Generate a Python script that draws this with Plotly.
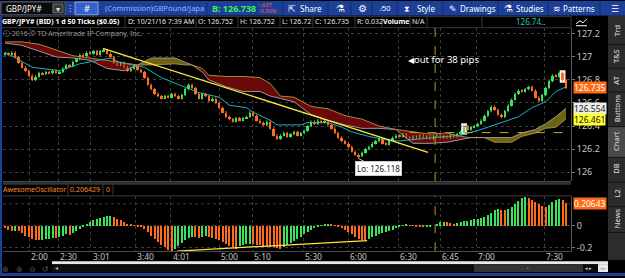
import plotly.graph_objects as go

W, H = 625, 278
FONT = "Noto Sans"


def PX(x):
    return x / W


def PY(y):
    return 1 - y / H


# ------------------------------------------------------------------ data
bars = list(range(166))
opens = [
    127.02, 127.03, 127.02, 127.04, 127.00, 126.95, 126.91, 126.88, 126.84, 126.80,
    126.83, 126.86, 126.85, 126.87, 126.86, 126.88, 126.86, 126.87, 126.90, 126.93,
    126.92, 126.96, 126.98, 127.02, 127.01, 127.04, 127.03, 127.05, 127.02, 127.05,
    127.06, 127.03, 127.00, 126.95, 126.93, 126.95, 126.91, 126.88, 126.90, 126.92,
    126.89, 126.87, 126.82, 126.76, 126.72, 126.68, 126.66, 126.64, 126.66, 126.65,
    126.68, 126.66, 126.64, 126.67, 126.72, 126.76, 126.73, 126.68, 126.64, 126.68,
    126.66, 126.62, 126.64, 126.60, 126.56, 126.52, 126.48, 126.46, 126.44, 126.47,
    126.45, 126.47, 126.48, 126.52, 126.49, 126.45, 126.43, 126.41, 126.44, 126.38,
    126.32, 126.29, 126.32, 126.34, 126.31, 126.33, 126.35, 126.32, 126.34, 126.36,
    126.40, 126.44, 126.42, 126.45, 126.43, 126.44, 126.41, 126.38, 126.34, 126.30,
    126.27, 126.25, 126.22, 126.18, 126.15, 126.14, 126.17, 126.20, 126.22, 126.25,
    126.27, 126.29, 126.25, 126.24, 126.28, 126.30, 126.32, 126.31, 126.33, 126.30,
    126.29, 126.31, 126.30, 126.32, 126.30, 126.31, 126.29, 126.31, 126.32, 126.30,
    126.31, 126.30, 126.32, 126.31, 126.33, 126.35, 126.40, 126.37, 126.39, 126.40,
    126.42, 126.45, 126.49, 126.53, 126.57, 126.54, 126.50, 126.48, 126.53, 126.58,
    126.63, 126.68, 126.71, 126.70, 126.72, 126.74, 126.71, 126.65, 126.62, 126.67,
    126.73, 126.79, 126.84, 126.83, 126.86, 126.80,
]
closes = [
    127.03, 127.02, 127.04, 127.00, 126.95, 126.91, 126.88, 126.84, 126.80, 126.83,
    126.86, 126.85, 126.87, 126.86, 126.88, 126.86, 126.87, 126.90, 126.93, 126.92,
    126.96, 126.98, 127.02, 127.01, 127.04, 127.03, 127.05, 127.02, 127.05, 127.06,
    127.03, 127.00, 126.95, 126.93, 126.95, 126.91, 126.88, 126.90, 126.92, 126.89,
    126.87, 126.82, 126.76, 126.72, 126.68, 126.66, 126.64, 126.66, 126.65, 126.68,
    126.66, 126.64, 126.67, 126.72, 126.76, 126.73, 126.68, 126.64, 126.68, 126.66,
    126.62, 126.64, 126.60, 126.56, 126.52, 126.48, 126.46, 126.44, 126.47, 126.45,
    126.47, 126.48, 126.52, 126.49, 126.45, 126.43, 126.41, 126.44, 126.38, 126.32,
    126.29, 126.32, 126.34, 126.31, 126.33, 126.35, 126.32, 126.34, 126.36, 126.40,
    126.44, 126.42, 126.45, 126.43, 126.44, 126.41, 126.38, 126.34, 126.30, 126.27,
    126.25, 126.22, 126.18, 126.15, 126.14, 126.17, 126.20, 126.22, 126.25, 126.27,
    126.29, 126.25, 126.24, 126.28, 126.30, 126.32, 126.31, 126.33, 126.30, 126.29,
    126.31, 126.30, 126.32, 126.30, 126.31, 126.29, 126.31, 126.32, 126.30, 126.31,
    126.30, 126.32, 126.31, 126.33, 126.35, 126.40, 126.37, 126.39, 126.40, 126.42,
    126.45, 126.49, 126.53, 126.57, 126.54, 126.50, 126.48, 126.53, 126.58, 126.63,
    126.68, 126.71, 126.70, 126.72, 126.74, 126.71, 126.65, 126.62, 126.67, 126.73,
    126.79, 126.84, 126.83, 126.86, 126.80, 126.735,
]
highs = [
    127.04, 127.04, 127.05, 127.05, 127.01, 126.96, 126.92, 126.89, 126.85, 126.84,
    126.87, 126.87, 126.88, 126.88, 126.89, 126.89, 126.88, 126.91, 126.94, 126.94,
    126.97, 126.99, 127.03, 127.03, 127.05, 127.05, 127.06, 127.06, 127.06, 127.07,
    127.07, 127.04, 127.01, 126.96, 126.96, 126.96, 126.92, 126.91, 126.93, 126.93,
    126.90, 126.88, 126.83, 126.77, 126.73, 126.69, 126.67, 126.67, 126.67, 126.69,
    126.69, 126.67, 126.68, 126.73, 126.77, 126.77, 126.74, 126.69, 126.69, 126.69,
    126.67, 126.65, 126.65, 126.61, 126.57, 126.53, 126.49, 126.47, 126.48, 126.48,
    126.48, 126.49, 126.53, 126.53, 126.50, 126.46, 126.44, 126.45, 126.45, 126.39,
    126.33, 126.33, 126.35, 126.35, 126.34, 126.36, 126.36, 126.35, 126.37, 126.41,
    126.45, 126.45, 126.46, 126.46, 126.45, 126.45, 126.42, 126.39, 126.35, 126.31,
    126.28, 126.26, 126.23, 126.19, 126.16, 126.18, 126.21, 126.23, 126.26, 126.28,
    126.30, 126.30, 126.26, 126.29, 126.31, 126.33, 126.33, 126.34, 126.34, 126.31,
    126.32, 126.32, 126.33, 126.33, 126.32, 126.32, 126.32, 126.33, 126.33, 126.32,
    126.32, 126.33, 126.33, 126.34, 126.36, 126.41, 126.41, 126.40, 126.41, 126.43,
    126.46, 126.50, 126.54, 126.58, 126.58, 126.55, 126.51, 126.54, 126.59, 126.64,
    126.69, 126.72, 126.72, 126.73, 126.75, 126.75, 126.72, 126.66, 126.68, 126.74,
    126.80, 126.85, 126.85, 126.87, 126.87, 126.81,
]
lows = [
    127.01, 127.01, 127.01, 126.99, 126.94, 126.90, 126.87, 126.83, 126.79, 126.79,
    126.82, 126.84, 126.84, 126.85, 126.85, 126.85, 126.85, 126.86, 126.89, 126.91,
    126.91, 126.95, 126.97, 127.00, 127.00, 127.02, 127.02, 127.01, 127.01, 127.04,
    127.02, 126.99, 126.94, 126.92, 126.92, 126.90, 126.87, 126.87, 126.89, 126.88,
    126.86, 126.81, 126.75, 126.71, 126.67, 126.65, 126.63, 126.63, 126.64, 126.64,
    126.65, 126.63, 126.63, 126.66, 126.71, 126.72, 126.67, 126.63, 126.63, 126.65,
    126.61, 126.61, 126.59, 126.55, 126.51, 126.47, 126.45, 126.43, 126.43, 126.44,
    126.44, 126.46, 126.47, 126.48, 126.44, 126.42, 126.40, 126.40, 126.37, 126.31,
    126.28, 126.28, 126.31, 126.30, 126.30, 126.32, 126.31, 126.31, 126.33, 126.35,
    126.39, 126.41, 126.41, 126.42, 126.42, 126.40, 126.37, 126.33, 126.29, 126.26,
    126.24, 126.21, 126.17, 126.14, 126.118, 126.13, 126.16, 126.19, 126.21, 126.24,
    126.26, 126.24, 126.23, 126.23, 126.27, 126.29, 126.30, 126.30, 126.29, 126.28,
    126.28, 126.29, 126.29, 126.29, 126.29, 126.28, 126.28, 126.30, 126.29, 126.29,
    126.29, 126.29, 126.30, 126.30, 126.32, 126.34, 126.36, 126.36, 126.38, 126.39,
    126.41, 126.44, 126.48, 126.52, 126.53, 126.49, 126.47, 126.47, 126.52, 126.57,
    126.62, 126.67, 126.69, 126.69, 126.71, 126.70, 126.64, 126.61, 126.61, 126.66,
    126.72, 126.78, 126.82, 126.82, 126.79, 126.72,
]
ao_values = [
    -0.02, -0.04, -0.05, -0.045, -0.05, -0.07, -0.09, -0.10, -0.12, -0.13,
    -0.135, -0.13, -0.125, -0.12, -0.11, -0.112, -0.10, -0.09, -0.08, -0.085,
    -0.07, -0.05, -0.03, -0.01, 0.01, 0.03, 0.05, 0.06, 0.07, 0.08,
    0.085, 0.09, 0.08, 0.065, 0.05, 0.035, 0.02, 0.01, 0.005, -0.005,
    -0.01, -0.03, -0.06, -0.09, -0.12, -0.15, -0.18, -0.20, -0.22, -0.23,
    -0.21, -0.19, -0.16, -0.13, -0.11, -0.10, -0.105, -0.11, -0.10, -0.09,
    -0.10, -0.11, -0.12, -0.13, -0.15, -0.17, -0.19, -0.20, -0.21, -0.19,
    -0.18, -0.17, -0.165, -0.17, -0.175, -0.18, -0.185, -0.19, -0.195, -0.20,
    -0.205, -0.21, -0.20, -0.18, -0.16, -0.14, -0.12, -0.10, -0.08, -0.06,
    -0.04, -0.02, -0.01, 0.005, 0.015, 0.02, 0.015, 0.005, -0.005, -0.02,
    -0.04, -0.06, -0.08, -0.10, -0.12, -0.13, -0.135, -0.12, -0.10, -0.09,
    -0.08, -0.07, -0.06, -0.05, -0.04, -0.02, -0.005, 0.005, 0.01, 0.005,
    0.003, -0.005, -0.01, -0.015, -0.01, -0.005, 0.0, 0.02, 0.03, 0.035,
    0.03, 0.025, 0.02, 0.025, 0.03, 0.04, 0.045, 0.05, 0.06, 0.065,
    0.07, 0.08, 0.10, 0.12, 0.14, 0.15, 0.148, 0.146, 0.15, 0.17,
    0.20, 0.23, 0.255, 0.26, 0.255, 0.24, 0.22, 0.20, 0.18, 0.17,
    0.19, 0.22, 0.24, 0.25, 0.235, 0.206429,
]
kijun_x = [0, 8, 16, 22, 31, 34, 41, 46, 51, 57, 63, 66, 71, 73, 78, 80, 87, 89, 95,
           99, 102, 107, 112, 116, 126, 134, 140, 146, 151, 155, 159, 162, 165]
kijun_y = [127.04, 126.91, 126.88, 126.94, 126.99, 126.95, 126.91, 126.82, 126.76,
           126.69, 126.65, 126.58, 126.56, 126.52, 126.45, 126.41, 126.41, 126.43,
           126.43, 126.39, 126.35, 126.31, 126.28, 126.27, 126.30, 126.32, 126.37,
           126.43, 126.48, 126.56, 126.61, 126.70, 126.74]
cloud_x = [0, 5, 10, 15, 20, 25, 30, 35, 39, 43, 50, 53, 55, 58, 60, 65, 70, 75, 78, 81,
           85, 90, 95, 100, 105, 110, 115, 120, 125, 130, 134, 137, 141, 144, 149, 152,
           156, 159, 162, 165]
span_b = [127.13, 127.13, 127.11, 127.06, 127.01, 126.99, 126.97, 126.95, 126.93, 126.93,
          126.94, 126.93, 126.93, 126.90, 126.84, 126.83, 126.83, 126.82, 126.77, 126.66,
          126.65, 126.57, 126.55, 126.49, 126.46, 126.40, 126.37, 126.35, 126.33, 126.34,
          126.31, 126.30, 126.30, 126.26, 126.26, 126.31, 126.34, 126.38, 126.39, 126.461]
span_a = [127.12, 127.10, 127.05, 127.00, 126.99, 126.97, 126.90, 126.88, 126.93, 126.99,
          126.99, 126.95, 126.93, 126.87, 126.80, 126.74, 126.70, 126.70, 126.66, 126.64,
          126.61, 126.50, 126.45, 126.41, 126.38, 126.38, 126.37, 126.25, 126.25, 126.26,
          126.28, 126.30, 126.30, 126.30, 126.30, 126.34, 126.37, 126.42, 126.48, 126.554]
time_tick_pos = [7.06, 15.59, 25.29, 38.24, 48.82, 62.94, 72.65, 87.65, 100.88,
                 115.59, 127.94, 138.53, 158.53]
time_tick_labels = ["2:00", "2:30", "3:01", "3:40", "4:01", "5:00", "5:10", "5:30",
                    "6:00", "6:30", "6:45", "7:00", "7:30"]
price_ticks = [126.0, 126.2, 126.4, 126.6, 126.8, 127.0, 127.2]
price_tick_labels = ["126", "126.2", "126.4", "126.6", "126.8", "127", "127.2"]
ao_grid = [-0.2, 0.0, 0.2]
ao_ticks = [-0.2, 0.0]
ao_tick_labels = ["-0.2", "0"]
trend_x = [28.8, 124.4]
trend_y = [127.073, 126.172]
ao_trend_x = [50.6, 106.5]
ao_trend_y = [-0.234, -0.138]
marker_bar = 126.5
level_price = 126.343
level_x = [119, 166.4]
highlight_bars = [135, 164]
low_bar = 104
low_price = 126.118
last_close = 126.735
ao_last = 0.206429

X_RANGE = [-0.59, 166.47]
P_RANGE = [125.923, 127.253]
A_RANGE = [-0.236, 0.273]

GREEN = "#3ae25e"
ORANGE = "#ff6d1c"
GRID = "#3c3c3c"
TICKC = "#c4c4c4"

fig = go.Figure()

# ---------------------------------------------------------- Ichimoku cloud
red_x, red_y, ol_x, ol_y = [], [], [], []
for k in range(len(cloud_x) - 1):
    x0, x1 = cloud_x[k], cloud_x[k + 1]
    a0, a1 = span_a[k], span_a[k + 1]
    b0, b1 = span_b[k], span_b[k + 1]
    d0, d1 = b0 - a0, b1 - a1
    if d0 * d1 < 0:
        t = d0 / (d0 - d1)
        xc = x0 + t * (x1 - x0)
        yc = a0 + t * (a1 - a0)
        segs = [(x0, xc, a0, yc, b0, yc, d0), (xc, x1, yc, a1, yc, b1, d1)]
    else:
        segs = [(x0, x1, a0, a1, b0, b1, d0 if d0 != 0 else d1)]
    for xa, xb, aa, ab, ba, bb, d in segs:
        xs = [xa, xb, xb, xa, xa, None]
        ys = [ba, bb, ab, aa, ba, None]
        if d >= 0:
            red_x += xs
            red_y += ys
        else:
            ol_x += xs
            ol_y += ys

fig.add_trace(go.Scatter(x=red_x, y=red_y, fill="toself", fillcolor="#6a0909",
                         mode="lines", line=dict(width=0, color="rgba(0,0,0,0)"),
                         hoverinfo="skip", xaxis="x", yaxis="y"))
fig.add_trace(go.Scatter(x=ol_x, y=ol_y, fill="toself", fillcolor="#6b6410",
                         mode="lines", line=dict(width=0, color="rgba(0,0,0,0)"),
                         hoverinfo="skip", xaxis="x", yaxis="y"))
fig.add_trace(go.Scatter(x=cloud_x, y=span_b, mode="lines",
                         line=dict(color="#a8893a", width=1), xaxis="x", yaxis="y"))
fig.add_trace(go.Scatter(x=cloud_x, y=span_a, mode="lines",
                         line=dict(color="#a09494", width=1), xaxis="x", yaxis="y"))
fig.add_trace(go.Scatter(x=kijun_x, y=kijun_y, mode="lines",
                         line=dict(color="#19b4c6", width=1), xaxis="x", yaxis="y"))

# ---------------------------------------------------------------- candles
up = dict(x=[], base=[], h=[], wx=[], wy=[])
dn = dict(x=[], base=[], h=[], wx=[], wy=[])
for i, o, hi, lo, c in zip(bars, opens, highs, lows, closes):
    d = up if c >= o else dn
    d["x"].append(i)
    d["base"].append(min(o, c))
    d["h"].append(max(abs(c - o), 0.005))
    d["wx"] += [i, i, None]
    d["wy"] += [lo, hi, None]

shapes = []
for b in highlight_bars:
    shapes.append(dict(type="rect", xref="x", yref="y", x0=b - 0.85, x1=b + 0.85,
                       y0=lows[b] - 0.015, y1=highs[b] + 0.015,
                       fillcolor="#f2f2f2", line=dict(width=0), layer="below"))

for d, col in ((up, GREEN), (dn, ORANGE)):
    fig.add_trace(go.Scatter(x=d["wx"], y=d["wy"], mode="lines",
                             line=dict(color=col, width=1), xaxis="x", yaxis="y"))
    fig.add_trace(go.Bar(x=d["x"], y=d["h"], base=d["base"], width=0.66,
                         marker=dict(color=col, line=dict(width=0)),
                         xaxis="x", yaxis="y"))

# trend lines
fig.add_trace(go.Scatter(x=trend_x, y=trend_y, mode="lines",
                         line=dict(color="#ffe63a", width=1.3), xaxis="x", yaxis="y"))
fig.add_trace(go.Scatter(x=level_x, y=[level_price, level_price], mode="lines",
                         line=dict(color="#c9a227", width=1, dash="dash"),
                         xaxis="x", yaxis="y"))

# ------------------------------------------------------------ oscillator
ao_colors = []
for i, v in enumerate(ao_values):
    prev = ao_values[i - 1] if i > 0 else v + 1
    ao_colors.append(GREEN if v >= prev else ORANGE)
fig.add_trace(go.Bar(x=bars, y=ao_values, width=0.6,
                     marker=dict(color=ao_colors, line=dict(width=0)),
                     xaxis="x2", yaxis="y2"))
fig.add_trace(go.Scatter(x=ao_trend_x, y=ao_trend_y, mode="lines",
                         line=dict(color="#ffe63a", width=1.3), xaxis="x2", yaxis="y2"))

# vertical dashed marker in both panes
for xr, yr in (("x", "y domain"), ("x2", "y2 domain")):
    shapes.append(dict(type="line", xref=xr, yref=yr, x0=marker_bar, x1=marker_bar,
                       y0=0, y1=1, line=dict(color="#b8952c", width=1, dash="dash")))
# 0.2 grid line of the oscillator (its label is covered by the value box)
shapes.append(dict(type="line", xref="x2 domain", yref="y2", x0=0, x1=1,
                   y0=ao_grid[2], y1=ao_grid[2],
                   line=dict(color=GRID, width=1, dash="dot"), layer="below"))


# ------------------------------------------------------------ chrome helpers
def rect(x0, y0, x1, y1, fill, line=None, lw=1, layer="above"):
    shapes.append(dict(type="rect", xref="paper", yref="paper",
                       x0=PX(x0), x1=PX(x1), y0=PY(y1), y1=PY(y0),
                       fillcolor=fill, layer=layer,
                       line=dict(width=lw if line else 0, color=line or "rgba(0,0,0,0)")))


def hline(x0, x1, y, color, w=1):
    shapes.append(dict(type="line", xref="paper", yref="paper", x0=PX(x0), x1=PX(x1),
                       y0=PY(y), y1=PY(y), line=dict(color=color, width=w)))


def vline(x, y0, y1, color, w=1):
    shapes.append(dict(type="line", xref="paper", yref="paper", x0=PX(x), x1=PX(x),
                       y0=PY(y0), y1=PY(y1), line=dict(color=color, width=w)))


annotations = []


def label(x, y, text, size=9, color="#ffffff", xanchor="left", angle=0,
          bg=None, border=None, pad=0, family=FONT):
    annotations.append(dict(x=PX(x), y=PY(y), xref="paper", yref="paper", text=text,
                            showarrow=False, xanchor=xanchor, yanchor="middle",
                            textangle=angle, font=dict(size=size, color=color, family=family),
                            bgcolor=bg, bordercolor=border, borderwidth=1 if border else 0,
                            borderpad=pad))


# toolbar
rect(0, 0, 625, 15, "#1c3f98")
rect(1, 1, 65, 14, "#0c0c0c", "#5a5a5a")
label(6, 7.5, "GBP/JPY#", 8)
rect(53, 3, 63, 12, "#3a3a3a", "#777777")
label(58, 7.5, "▾", 8, "#dddddd", "center")
label(70, 7.5, "⁝", 9, "#cfd8ff", "center")
rect(75, 1, 98, 14, "#3562c9", "#8aa4e8")
label(86.5, 7.5, "#", 9, "#ffffff", "center")
label(105, 7.5, "(Commission)GBPound/Japa", 7.5, "#9db6ff")
for sx in (207, 256, 283, 328, 351, 372, 397, 443, 498, 548, 600):
    vline(sx, 1, 14, "#0e2a70")
label(212, 7.5, "<b>B: 126.738</b>", 9, "#3ff05c")
label(259, 4.5, "-.637", 5.5, "#ff5a4a")
label(259, 10.5, "-0.50%", 5.5, "#ff5a4a")
label(288, 7.5, "⇱", 9, "#ffffff")
label(300, 7.5, "Share", 8)
label(340, 7.5, "⚗", 10, "#ffffff", "center")
label(362, 7.5, "⚙", 10, "#ffffff", "center")
label(385, 7.5, "⁄50", 7.5, "#ffffff", "center")
label(404, 7.5, "⧗", 8, "#ffffff")
label(417, 7.5, "Style", 8)
label(449, 7.5, "✎", 9, "#ffffff")
label(460, 7.5, "Drawings", 8)
label(504, 7.5, "⚗", 10, "#ffffff")
label(516, 7.5, "Studies", 8)
label(553, 7.5, "≋", 9, "#ffffff")
label(563, 7.5, "Patterns", 8)
label(615, 7.5, "☰", 9, "#ffffff", "center")

# info row
rect(0, 15, 608, 27, "#000000")
hline(0, 571, 15.5, "#3a3a3a")
hline(0, 571, 27, "#3a3a3a")
for sx in (125, 196, 238, 280, 313, 355, 382, 410, 427, 482, 571):
    vline(sx, 15, 27, "#3a3a3a")
label(2, 21, "<b>GBP/JPY# (BID) 1 d 50 Ticks ($0.05)</b>", 7)
label(128, 21, "D: 10/21/16 7:39 AM", 7, "#e6e6e6")
label(198, 21, "O: 126.752", 7, "#e6e6e6")
label(240, 21, "H: 126.752", 7, "#e6e6e6")
label(282, 21, "L: 126.72", 7, "#e6e6e6")
label(315, 21, "C: 126.735", 7, "#e6e6e6")
label(357, 21, "R: 0.032", 7, "#e6e6e6")
label(383, 21, "<b>Volume</b>", 7)
label(412, 21, "N/A", 7, "#e6e6e6")
label(516, 21, "126.74", 8, "#26c2b4")
label(541, 21, "..", 8, "#cccccc")
shapes.append(dict(type="path", xref="paper", yref="paper",
                   path=f"M {PX(576)},{PY(25)} L {PX(587)},{PY(25)} M {PX(576)},{PY(23)} "
                        f"L {PX(580)},{PY(20)} L {PX(583)},{PY(22)} L {PX(587)},{PY(18)}",
                   line=dict(color="#ffffff", width=1)))

# copyright
label(3, 33, "ⓘ 2016 © TD Ameritrade IP Company, Inc.", 7, "#9a9a9a")

# left blue border, panel separators
rect(0, 15, 2, 278, "#1c3f98")
rect(3, 182, 571, 185, "#262626")
hline(3, 571, 182.5, "#4a4a4a")
hline(3, 571, 185, "#4a4a4a")
hline(3, 571, 197, "#3a3a3a")
for sx in (68, 103, 113):
    vline(sx, 185, 197, "#3a3a3a")
label(3, 191, "AwesomeOscillator", 7, "#ff8a2e")
label(70, 191, "0.206429", 7, "#ff8a2e")
label(106, 191, "0", 7, "#ff8a2e")

# side tabs
rect(608, 15, 625, 262, "#2c2c2c")
rect(608, 127, 625, 158, "#4a4a4a")
for sy in (44, 68, 92, 127, 158, 183, 208, 234):
    hline(608, 625, sy, "#151515")
for ty, tt in ((30, "Trd"), (56, "T&S"), (80, "AT"), (109, "Buttons"), (142, "Chart"),
               (170, "DB"), (195, "L2"), (220, "News")):
    label(616.5, ty, tt, 7.5, "#e0e0e0", "center", angle=-90)

# bottom bar
rect(0, 262, 625, 278, "#000000")
rect(0, 262, 2, 278, "#1c3f98")
for ix, ic in ((6, "⊕"), (19, "⊕"), (32, "⊖"), (45, "↺")):
    label(ix, 270, ic, 8, "#555555", "center")
rect(52, 263, 608, 266, "#e8e8e8")
rect(52, 266, 598, 274, "#0c0c0c")
rect(474, 266, 583, 274, "#333333")
label(528, 270, "▪", 5, "#888888", "center")
label(55, 270, "◂", 6, "#bbbbbb")
label(585, 270, "◂ ▸", 5, "#dddddd")
rect(598, 266, 608, 274, "#e8e8e8")
label(603, 270, "◂▸", 5, "#aaaaaa", "center")
rect(0, 275, 625, 278, "#1c3f98")

# time axis labels, left-aligned at their grid lines
for tp, tl in zip(time_tick_pos, time_tick_labels):
    annotations.append(dict(x=tp, y=PY(258), xref="x2", yref="paper", text=tl,
                            showarrow=False, xanchor="left", yanchor="middle", xshift=0,
                            font=dict(size=8.5, color=TICKC, family=FONT)))

# value boxes
for val, bg, fg in ((last_close, "#ff6a14", "#ffffff"), (span_a[-1], "#ececec", "#222222"),
                    (span_b[-1], "#ffff2e", "#111111")):
    annotations.append(dict(x=PX(573), y=val, xref="paper", yref="y", text=f"{val:.3f}",
                            showarrow=False, xanchor="left", yanchor="middle",
                            font=dict(size=8.5, color=fg, family=FONT), bgcolor=bg,
                            borderpad=0))
annotations.append(dict(x=PX(573), y=ao_last, xref="paper", yref="y2", text=f"{ao_last:.5f}",
                        showarrow=False, xanchor="left", yanchor="middle",
                        font=dict(size=8.5, color="#ffffff", family=FONT), bgcolor="#ff6a14",
                        borderpad=0))

# Lo callout
annotations.append(dict(x=low_bar, y=low_price, xref="x", yref="y", text="Lo: 126.118",
                        showarrow=True, arrowhead=0, arrowwidth=1, arrowcolor="#bbbbbb",
                        ax=20, ay=10, font=dict(size=8, color="#222222", family=FONT),
                        bgcolor="#ffffff", bordercolor="#cccccc", borderwidth=1, borderpad=1))
# text note
label(408, 59, "<span style='font-size:8px'>◀</span>out for 38 pips", 9.5, "#ffffff")

axis_common = dict(showgrid=True, gridcolor=GRID, griddash="dot", gridwidth=1,
                   zeroline=False, fixedrange=True)

fig.update_layout(
    width=W, height=H, margin=dict(l=0, r=0, t=0, b=0),
    paper_bgcolor="#000000", plot_bgcolor="#000000",
    showlegend=False, barmode="overlay", bargap=0,
    font=dict(family=FONT, color=TICKC, size=9),
    xaxis=dict(domain=[PX(3), PX(571)], range=X_RANGE, anchor="y",
               tickvals=time_tick_pos, showticklabels=False, **axis_common),
    yaxis=dict(domain=[PY(182), PY(27)], range=P_RANGE, anchor="x", side="right",
               tickvals=price_ticks, ticktext=price_tick_labels, ticks="outside",
               ticklen=3, tickcolor="#777777", showline=True, linecolor="#555555",
               tickfont=dict(size=9, color=TICKC), **axis_common),
    xaxis2=dict(domain=[PX(3), PX(571)], range=X_RANGE, anchor="y2", matches="x",
                tickvals=time_tick_pos, showticklabels=False, ticks="", showline=True,
                linecolor="#4a4a4a", **axis_common),
    yaxis2=dict(domain=[PY(253), PY(197)], range=A_RANGE, anchor="x2", side="right",
                tickvals=ao_ticks, ticktext=ao_tick_labels, ticks="outside", ticklen=3,
                tickcolor="#777777", showline=True, linecolor="#555555",
                tickfont=dict(size=9, color=TICKC), **axis_common),
    shapes=shapes, annotations=annotations,
)

fig.write_html("out.html")
